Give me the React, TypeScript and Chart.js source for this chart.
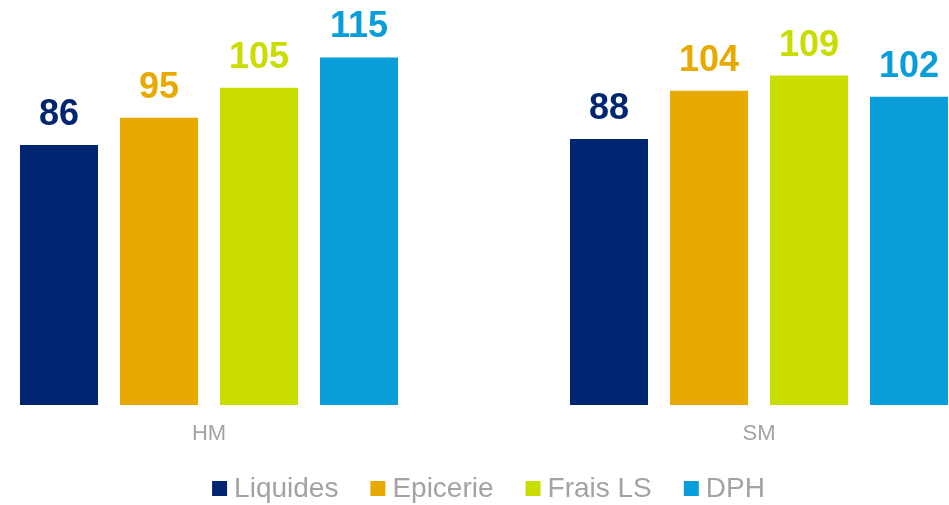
import React, { useEffect, useRef } from "react";
import { Chart, registerables } from "chart.js";

Chart.register(...registerables);

const categories = ["HM", "SM"];
const seriesNames = ["Liquides", "Epicerie", "Frais LS", "DPH"];
const liquides = [86, 88];
const epicerie = [95, 104];
const fraisLS = [105, 109];
const dph = [115, 102];
const seriesColors = ["#002672", "#E8AA00", "#CADD00", "#099ED9"];

const FONT = "'Liberation Sans', Arial, sans-serif";
const GREY = "#A3A3A3";

const valueLabels = {
  id: "valueLabels",
  afterDatasetsDraw(chart: any) {
    const ctx = chart.ctx;
    ctx.save();
    ctx.font = `bold 36px ${FONT}`;
    ctx.textAlign = "center";
    ctx.textBaseline = "alphabetic";
    chart.data.datasets.forEach((ds: any, di: number) => {
      const meta = chart.getDatasetMeta(di);
      meta.data.forEach((el: any, i: number) => {
        ctx.fillStyle = ds.backgroundColor;
        ctx.fillText(String(ds.data[i]), el.x, el.y - 20);
      });
    });
    ctx.restore();
  },
};

const customLegend = {
  id: "customLegend",
  afterDraw(chart: any) {
    const ctx = chart.ctx;
    ctx.save();
    ctx.font = `28px ${FONT}`;
    ctx.textBaseline = "alphabetic";
    const box = 15;
    const gapText = 7;
    const gapItem = 32;
    const items = chart.data.datasets.map((ds: any) => ({
      label: ds.label,
      color: ds.backgroundColor,
      w: ctx.measureText(ds.label).width,
    }));
    const total =
      items.reduce((s: number, it: any) => s + box + gapText + it.w, 0) +
      gapItem * (items.length - 1);
    let x = 488.5 - total / 2;
    const baseline = 497;
    items.forEach((it: any) => {
      ctx.fillStyle = it.color;
      ctx.fillRect(x, 481, box, box);
      ctx.fillStyle = GREY;
      ctx.fillText(it.label, x + box + gapText, baseline);
      x += box + gapText + it.w + gapItem;
    });
    ctx.restore();
  },
};

export default function App() {
  const ref = useRef<HTMLCanvasElement | null>(null);
  useEffect(() => {
    if (!ref.current) return;
    const data = [liquides, epicerie, fraisLS, dph];
    const chart = new Chart(ref.current, {
      type: "bar",
      data: {
        labels: categories,
        datasets: seriesNames.map((name, i) => ({
          label: name,
          data: data[i],
          backgroundColor: seriesColors[i],
          borderWidth: 0,
          categoryPercentage: 400 / 550,
          barPercentage: 0.78,
          clip: false as any,
        })),
      },
      options: {
        animation: false,
        responsive: true,
        maintainAspectRatio: false,
        layout: { padding: { left: 209, right: 190, top: 0, bottom: 41.6 } },
        plugins: {
          legend: { display: false },
          tooltip: { enabled: false },
        },
        scales: {
          x: {
            offset: false,
            grid: { display: false, drawTicks: false },
            border: { display: false },
            ticks: {
              color: GREY,
              font: { family: FONT, size: 22 },
              padding: 16,
              maxRotation: 0,
              autoSkip: false,
            },
          },
          y: {
            display: false,
            min: 0,
            max: 134,
          },
        },
      },
      plugins: [valueLabels, customLegend],
    });
    return () => chart.destroy();
  }, []);
  return (
    <div style={{ position: "fixed", left: 0, top: 0, width: 949, height: 505, background: "#fff" }}>
      <canvas ref={ref} />
    </div>
  );
}
